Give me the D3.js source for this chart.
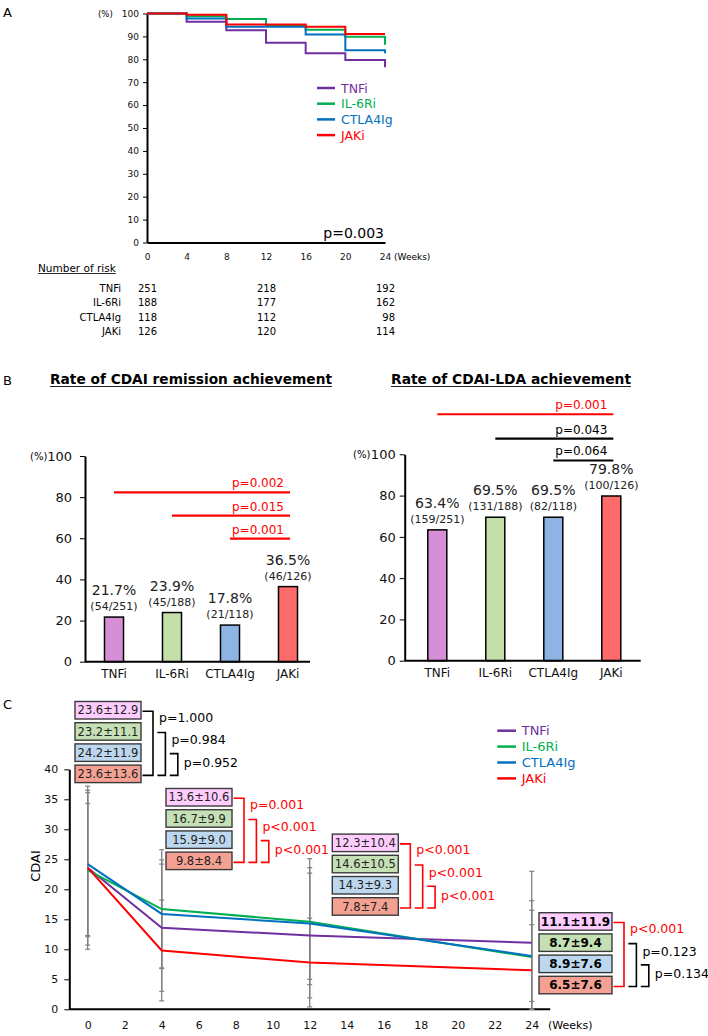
<!DOCTYPE html>
<html>
<head>
<meta charset="utf-8">
<script src="https://cdn.jsdelivr.net/npm/d3@7"></script>
<style>
body { margin: 0; background: #fff; }
text { font-family: "DejaVu Sans", Verdana, sans-serif; }
</style>
</head>
<body>
<script>
// groups shared by all panels
var drugs = ["TNFi", "IL-6Ri", "CTLA4Ig", "JAKi"]
var lineColors = ["#7030A0", "#00B050", "#0070C0", "#FF0000"]
var barColors = ["#D68FD6", "#C4DFA9", "#8EB4E3", "#FF6B6B"]
var boxColors = ["#FFCCFF", "#C5E0B4", "#BDD7EE", "#F4A193"]

// A: drug retention
var kmWeeks = [0, 4, 8, 12, 16, 20, 24]
var kmTicksY = [0, 10, 20, 30, 40, 50, 60, 70, 80, 90, 100]
var kmTNFi = [100, 96.4, 92.7, 87.2, 82.6, 79.7, 76.5]
var kmIL6Ri = [100, 98.8, 97.6, 94.8, 92.9, 89.8, 86.3]
var kmCTLA4Ig = [100, 97.8, 94.2, 94.2, 90.8, 84.0, 82.6]
var kmJAKi = [100, 99.4, 95.2, 95.2, 94.2, 91.0, 91.0]
var kmP = "p=0.003"
var riskWeeks = [0, 12, 24]
var riskTNFi = [251, 218, 192]
var riskIL6Ri = [188, 177, 162]
var riskCTLA4Ig = [118, 112, 98]
var riskJAKi = [126, 120, 114]

// B: achievement rates
var remissionPct = [21.7, 23.9, 17.8, 36.5]
var remissionN = ["54/251", "45/188", "21/118", "46/126"]
var remissionP = ["p=0.002", "p=0.015", "p=0.001"]
var ldaPct = [63.4, 69.5, 69.5, 79.8]
var ldaN = ["159/251", "131/188", "82/118", "100/126"]
var ldaP = ["p=0.001", "p=0.043", "p=0.064"]
var barTicks = [0, 20, 40, 60, 80, 100]

// C: CDAI over time
var cdaiWeeks = [0, 4, 12, 24]
var cdaiTicksX = [0, 2, 4, 6, 8, 10, 12, 14, 16, 18, 20, 22, 24]
var cdaiTicksY = [0, 5, 10, 15, 20, 25, 30, 35, 40]
var cdaiTNFi = [23.6, 13.6, 12.3, 11.1]
var cdaiIL6Ri = [23.2, 16.7, 14.6, 8.7]
var cdaiCTLA4Ig = [24.2, 15.9, 14.3, 8.9]
var cdaiJAKi = [23.6, 9.8, 7.8, 6.5]
var sdTNFi = [12.9, 10.6, 10.4, 11.9]
var sdIL6Ri = [11.1, 9.9, 10.5, 9.4]
var sdCTLA4Ig = [11.9, 9.0, 9.3, 7.6]
var sdJAKi = [13.6, 8.4, 7.4, 7.6]
var cdaiP = [
    ["p=1.000", "p=0.984", "p=0.952"],
    ["p=0.001", "p<0.001", "p<0.001"],
    ["p<0.001", "p<0.001", "p<0.001"],
    ["p<0.001", "p=0.123", "p=0.134"]
]

// red when below Bonferroni level (0.05 / 3 comparisons)
function pColor(p) { return +p.slice(2) < 0.05 / 3 ? "#FF0000" : "#000" }

var svg = d3.select("body").append("svg")
    .attr("width", 708)
    .attr("height", 1036)

function styleAxis(g, size) {
    g.attr("font-family", null).attr("font-size", size)
    g.select(".domain").attr("stroke-width", 2)
    g.selectAll("text").attr("fill", "#111")
}

// panel letters
svg.selectAll(".panelLetter")
    .data([["A", 17], ["B", 385], ["C", 709]])
    .join("text")
    .attr("x", 3)
    .attr("y", d => d[1])
    .style("font-size", "13px")
    .text(d => d[0])

// ---------- A ----------
var kmSeries = [kmTNFi, kmIL6Ri, kmCTLA4Ig, kmJAKi]
var riskSeries = [riskTNFi, riskIL6Ri, riskCTLA4Ig, riskJAKi]

var kmX = d3.scaleLinear().domain([0, 24]).range([147, 385])
var kmY = d3.scaleLinear().domain([0, 100]).range([242.5, 13.5])

svg.append("g")
    .attr("transform", "translate(147,0)")
    .call(d3.axisLeft(kmY).tickValues(kmTicksY).tickSize(4).tickPadding(4).tickSizeOuter(0))
    .call(g => styleAxis(g, 9))

svg.append("g")
    .attr("transform", "translate(0,242.5)")
    .call(d3.axisBottom(kmX).tickValues(kmWeeks).tickSize(0).tickPadding(11).tickSizeOuter(0))
    .call(g => styleAxis(g, 9))

svg.append("text").attr("x", 98).attr("y", 16.5).style("font-size", "8.5px").text("(%)")
svg.append("text").attr("x", 394).attr("y", 259.5).style("font-size", "9px").text("(Weeks)")

var kmLine = d3.line()
    .x(d => kmX(d[0]))
    .y(d => kmY(d[1]))
    .curve(d3.curveStepAfter)

svg.selectAll(".km")
    .data(kmSeries)
    .join("path")
    .attr("fill", "none")
    .attr("stroke", (d, i) => lineColors[i])
    .attr("stroke-width", 2)
    .attr("d", d => kmLine(kmWeeks.map((w, j) => [w, d[j]])))

// legend A
var legA = svg.append("g")
drugs.forEach(function (name, i) {
    var cy = 88 + i * 15.7
    legA.append("line").attr("x1", 317).attr("x2", 335).attr("y1", cy).attr("y2", cy)
        .attr("stroke", lineColors[i]).attr("stroke-width", 2.5)
    legA.append("text").attr("x", 341).attr("y", cy + 4.5)
        .style("font-size", "12.5px").attr("fill", lineColors[i]).text(name)
})

svg.append("text")
    .attr("x", 384).attr("y", 237.5)
    .attr("text-anchor", "end")
    .style("font-size", "14px")
    .text(kmP)

// number at risk table
svg.append("g")
    .attr("transform", "translate(0,242.5)")
    .call(d3.axisBottom(kmX).tickValues(kmWeeks).tickSize(0).tickPadding(11).tickSizeOuter(0))
    .call(g => g.select(".domain").remove())
    .call(g => g.attr("font-family", null).attr("font-size", 9))
    .attr("opacity", 0)

var nr = svg.append("text").attr("x", 38).attr("y", 271.5).style("font-size", "10.5px").text("Number of risk")
var nrW = nr.node().getComputedTextLength()
svg.append("line").attr("x1", 38).attr("x2", 38 + nrW).attr("y1", 273.5).attr("y2", 273.5)
    .attr("stroke", "#111").attr("stroke-width", 0.9)

drugs.forEach(function (name, i) {
    var by = 291.5 + i * 14.5
    svg.append("text").attr("x", 121).attr("y", by).attr("text-anchor", "end")
        .style("font-size", "10px").text(name)
    svg.selectAll(".risk" + i)
        .data(riskSeries[i])
        .join("text")
        .attr("x", (d, j) => kmX(riskWeeks[j]) + 10)
        .attr("y", by)
        .attr("text-anchor", "end")
        .style("font-size", "10px")
        .text(d => d)
})

// ---------- B ----------
function barPanel(o) {
    var x = d3.scaleBand().domain(drugs).range(o.xRange).paddingInner(0.672).paddingOuter(0.336)
    var y = d3.scaleLinear().domain([0, 100]).range(o.yRange)
    var g = svg.append("g")

    // title with underline
    var t = g.append("text")
        .attr("x", o.titleX[0]).attr("y", 383.5)
        .attr("textLength", o.titleX[1] - o.titleX[0])
        .attr("lengthAdjust", "spacingAndGlyphs")
        .style("font-size", "14px").style("font-weight", "bold")
        .text(o.title)
    g.append("line").attr("x1", o.titleX[0]).attr("x2", o.titleX[1])
        .attr("y1", 386.5).attr("y2", 386.5).attr("stroke", "#222").attr("stroke-width", 1.2)

    g.selectAll("rect")
        .data(o.pct)
        .join("rect")
        .attr("x", (d, i) => x(drugs[i]))
        .attr("y", d => y(d))
        .attr("width", x.bandwidth())
        .attr("height", d => y(0) - y(d))
        .attr("fill", (d, i) => barColors[i])
        .attr("stroke", "#000")
        .attr("stroke-width", 1.5)

    g.append("g")
        .attr("transform", "translate(" + o.yAxisX + ",0)")
        .call(d3.axisLeft(y).tickValues(barTicks).tickSize(5).tickPadding(o.tickPad).tickSizeOuter(0))
        .call(a => styleAxis(a, 13))

    g.append("g")
        .attr("transform", "translate(0," + o.yRange[0] + ")")
        .call(d3.axisBottom(x).tickSize(0).tickPadding(8).tickSizeOuter(0))
        .call(a => styleAxis(a, 12))
        .call(a => a.select(".domain").attr("d", "M" + o.yAxisX + ",0H" + o.xEnd))

    g.append("text").attr("x", o.pctX).attr("y", o.yRange[1] + 4)
        .style("font-size", "10px").text("(%)")

    g.selectAll(".pct")
        .data(o.pct)
        .join("text")
        .attr("x", (d, i) => x(drugs[i]) + x.bandwidth() / 2)
        .attr("y", d => y(d) - 22)
        .attr("text-anchor", "middle")
        .style("font-size", "14px")
        .attr("fill", "#222")
        .text(d => d.toFixed(1) + "%")

    g.selectAll(".frac")
        .data(o.n)
        .join("text")
        .attr("x", (d, i) => x(drugs[i]) + x.bandwidth() / 2)
        .attr("y", (d, i) => y(o.pct[i]) - 7)
        .attr("text-anchor", "middle")
        .style("font-size", "11px")
        .attr("fill", "#222")
        .text(d => "(" + d + ")")

    // comparison lines, each group against JAKi
    var xEndLine = x("JAKi") + x.bandwidth() / 2 + 2
    o.p.forEach(function (p, i) {
        var ly = y(o.pLevels[i])
        var x0 = x(drugs[i]) + x.bandwidth() / 2
        g.append("line").attr("x1", x0).attr("x2", xEndLine).attr("y1", ly).attr("y2", ly)
            .attr("stroke", pColor(p)).attr("stroke-width", 2.2)
        g.append("text").attr("x", xEndLine - 6).attr("y", ly - 5)
            .attr("text-anchor", "end").style("font-size", "12px")
            .attr("fill", pColor(p)).text(p)
    })
}

barPanel({
    title: "Rate of CDAI remission achievement", titleX: [50, 332],
    xRange: [85, 317], yRange: [661.7, 456], yAxisX: 85, xEnd: 310, tickPad: 8, pctX: 30,
    pct: remissionPct, n: remissionN, p: remissionP, pLevels: [82.3, 71, 59.8]
})
barPanel({
    title: "Rate of CDAI-LDA achievement", titleX: [391, 631],
    xRange: [408.3, 640.3], yRange: [660.7, 454.3], yAxisX: 404.7, xEnd: 640.7, tickPad: 4, pctX: 353,
    pct: ldaPct, n: ldaN, p: ldaP, pLevels: [119.4, 107.6, 97]
})

// ---------- C ----------
var cdaiSeries = [cdaiTNFi, cdaiIL6Ri, cdaiCTLA4Ig, cdaiJAKi]
var sdSeries = [sdTNFi, sdIL6Ri, sdCTLA4Ig, sdJAKi]

var cx = d3.scaleLinear().domain([0, 24]).range([87.7, 531.7])
var cy = d3.scaleLinear().domain([0, 40]).range([1009.3, 769.3])

svg.append("g")
    .attr("transform", "translate(69.3,0)")
    .call(d3.axisLeft(cy).tickValues(cdaiTicksY).tickSize(5).tickPadding(6).tickSizeOuter(0))
    .call(g => styleAxis(g, 11))

svg.append("g")
    .attr("transform", "translate(0,1009.3)")
    .call(d3.axisBottom(cx).tickValues(cdaiTicksX).tickSize(0).tickPadding(12).tickSizeOuter(0))
    .call(g => styleAxis(g, 11))
    .call(g => g.select(".domain").attr("d", "M69.3,0H" + cx(25)))

svg.append("text").attr("x", 548).attr("y", 1029).style("font-size", "11px").text("(Weeks)")
svg.append("text")
    .attr("transform", "translate(40,866) rotate(-90)")
    .attr("text-anchor", "middle")
    .style("font-size", "13px")
    .text("CDAI")

// error bars (mean ± SD)
cdaiWeeks.forEach(function (w, j) {
    var px = cx(w)
    cdaiSeries.forEach(function (s, k) {
        var lo = Math.max(0, s[j] - sdSeries[k][j])
        var hi = s[j] + sdSeries[k][j]
        svg.append("line").attr("x1", px).attr("x2", px).attr("y1", cy(lo)).attr("y2", cy(hi))
            .attr("stroke", "#808080").attr("stroke-width", 1.3)
        ;[lo, hi].forEach(function (v) {
            svg.append("line").attr("x1", px - 2.5).attr("x2", px + 2.5).attr("y1", cy(v)).attr("y2", cy(v))
                .attr("stroke", "#808080").attr("stroke-width", 1.2)
        })
    })
})

var cdaiLine = d3.line().x(d => cx(d[0])).y(d => cy(d[1]))
svg.selectAll(".cdai")
    .data(cdaiSeries)
    .join("path")
    .attr("fill", "none")
    .attr("stroke", (d, i) => lineColors[i])
    .attr("stroke-width", 2)
    .attr("d", d => cdaiLine(cdaiWeeks.map((w, j) => [w, d[j]])))

// legend C
drugs.forEach(function (name, i) {
    var ly = 730.7 + i * 15.9
    svg.append("line").attr("x1", 497.3).attr("x2", 516).attr("y1", ly).attr("y2", ly)
        .attr("stroke", lineColors[i]).attr("stroke-width", 2.5)
    svg.append("text").attr("x", 521.7).attr("y", ly + 4.5)
        .style("font-size", "13px").attr("fill", lineColors[i]).text(name)
})

// mean ± SD boxes and brackets
var boxLayout = [
    { dx: -12.7, top: 51.3, w: 66 },
    { dx: 4.3, top: 36.8, w: 66 },
    { dx: 22.6, top: 29.2, w: 66 },
    { dx: 7.3, top: 16.1, w: 73 }
]
var boxH = 17.5, boxStep = 21.2

cdaiWeeks.forEach(function (w, j) {
    var L = boxLayout[j]
    var left = cx(w) + L.dx
    var top = cy(L.top)
    var g = svg.append("g")
    var centers = []
    cdaiSeries.forEach(function (s, k) {
        var by = top + k * boxStep
        centers.push(by + boxH / 2)
        g.append("rect").attr("x", left).attr("y", by).attr("width", L.w).attr("height", boxH)
            .attr("fill", boxColors[k]).attr("stroke", "#3a3a3a").attr("stroke-width", 1.4)
        g.append("text").attr("x", left + L.w / 2).attr("y", by + boxH / 2 + 4.2)
            .attr("text-anchor", "middle")
            .style("font-size", j == 3 ? "12px" : "11.5px")
            .style("font-weight", j == 3 ? "bold" : "normal")
            .attr("fill", j == 3 ? "#000" : "#222")
            .text(s[j].toFixed(1) + "\u00B1" + sdSeries[k][j].toFixed(1))
    })
    var right = left + L.w
    cdaiP[j].forEach(function (p, i) {
        var bx = right + 12 + 12.4 * i
        var ax = i == 0 ? right + 1.5 : bx - 8
        var t = centers[i] + 1
        var b = centers[3] + 1.5
        g.append("path")
            .attr("d", "M" + ax + "," + t + "H" + bx + "V" + b + "H" + ax)
            .attr("fill", "none").attr("stroke", pColor(p)).attr("stroke-width", 1.6)
        g.append("text").attr("x", bx + 6).attr("y", t + 6 + 1.5 * i + 4.5)
            .style("font-size", "12.5px").attr("fill", pColor(p)).text(p)
    })
})
</script>
</body>
</html>
